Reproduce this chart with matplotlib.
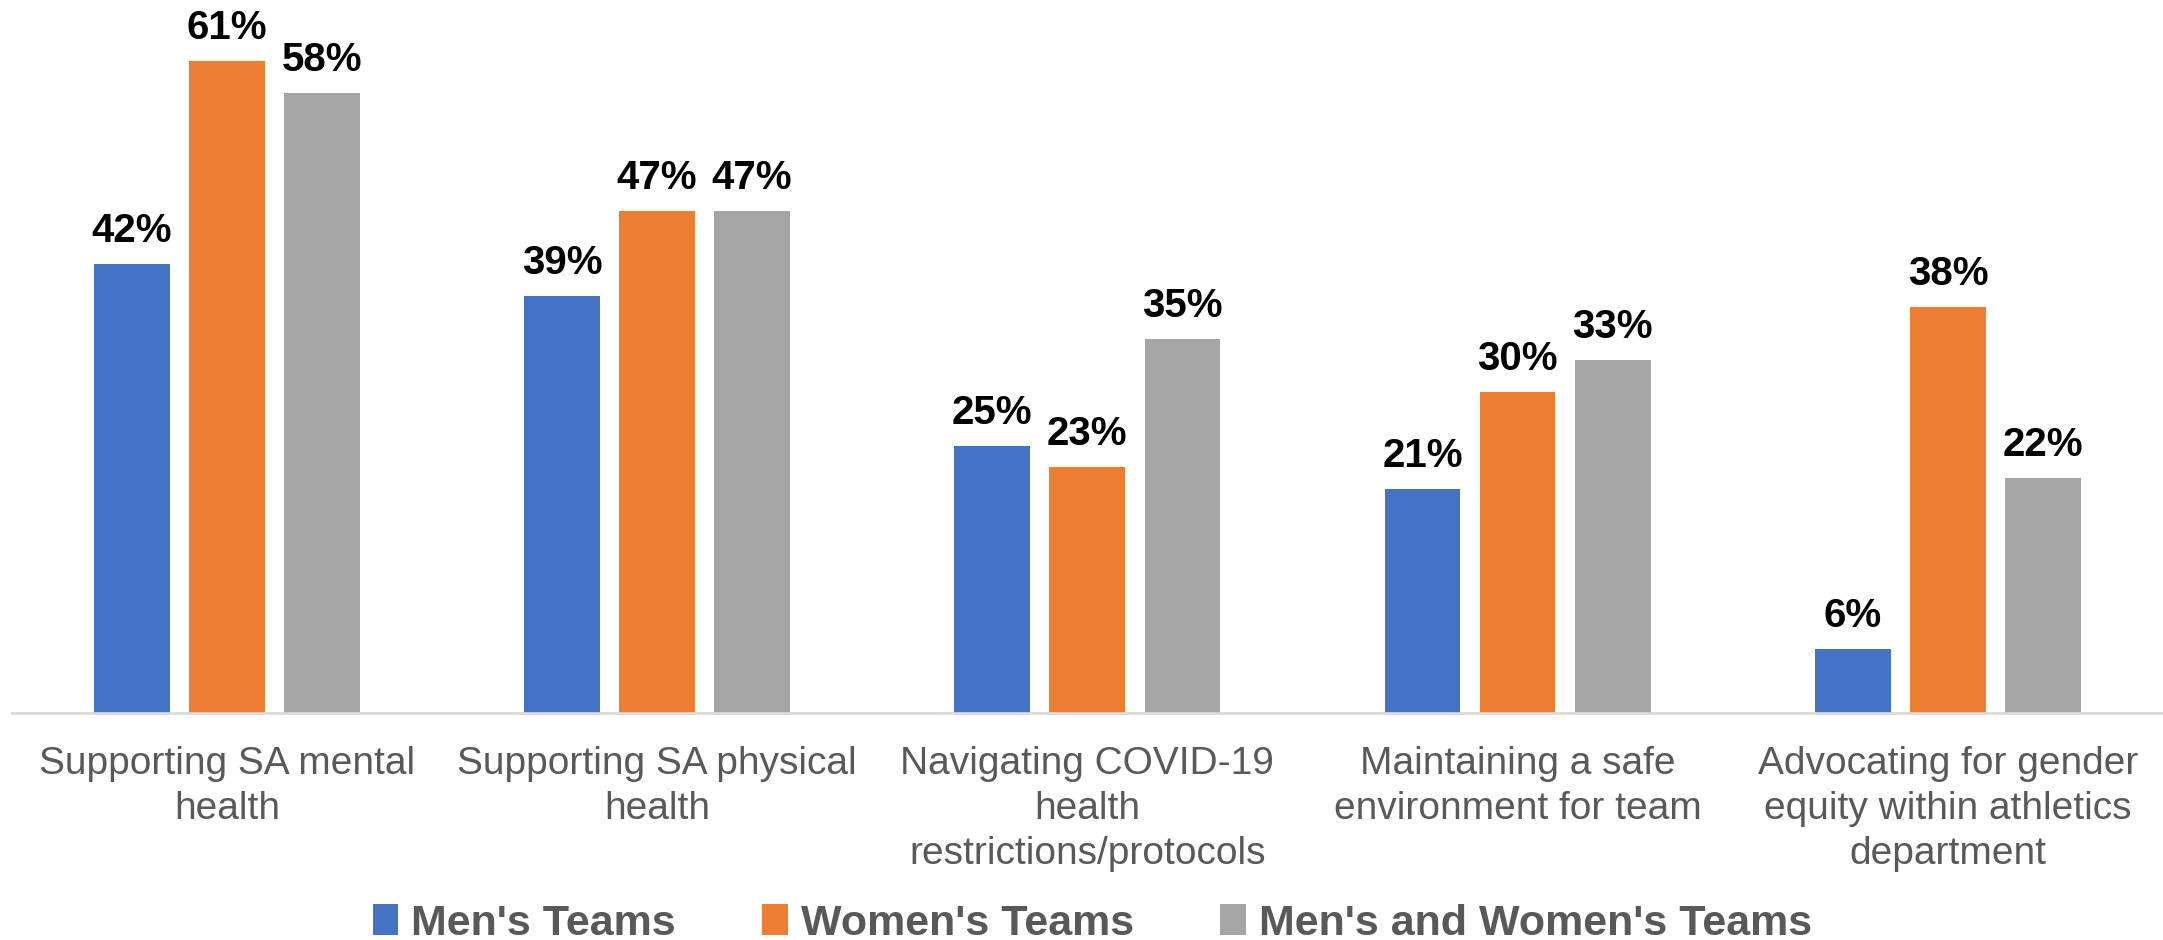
import matplotlib.pyplot as plt
import numpy as np

# categories and series values (percent)
categories = ["Supporting SA mental\nhealth",
              "Supporting SA physical\nhealth",
              "Navigating COVID-19\nhealth\nrestrictions/protocols",
              "Maintaining a safe\nenvironment for team",
              "Advocating for gender\nequity within athletics\ndepartment"]
mens = [42, 39, 25, 21, 6]
womens = [61, 47, 23, 30, 38]
both = [58, 47, 35, 33, 22]
series_names = ["Men's Teams", "Women's Teams", "Men's and Women's Teams"]
colors = ["#4472C4", "#ED7D31", "#A5A5A5"]

plt.rcParams['font.family'] = ['Liberation Sans', 'DejaVu Sans']

fig = plt.figure(figsize=(21.63, 9.4), dpi=100)
ax = fig.add_axes([11.7 / 2163, 227 / 940, 1 - 11.7 / 2163, 705.5 / 940])

x = np.arange(len(categories))
width = 0.176
pitch = 0.221
handles = []
for i, (vals, col) in enumerate(zip([mens, womens, both], colors)):
    bars = ax.bar(x + (i - 1) * pitch, vals, width, color=col, label=series_names[i])
    handles.append(bars)
    for b, v in zip(bars, vals):
        ax.annotate(f"{v}%", (b.get_x() + b.get_width() / 2, v),
                    xytext=(0, 10), textcoords='offset points',
                    ha='center', va='bottom', fontsize=29, fontweight='bold',
                    color='black')

ax.set_xlim(-0.5, len(categories) - 0.5)
ax.set_ylim(0, 66)
ax.set_yticks([])
for s in ['top', 'right', 'left']:
    ax.spines[s].set_visible(False)
ax.spines['bottom'].set_color('#D9D9D9')
ax.spines['bottom'].set_linewidth(2)
ax.set_xticks(x)
ax.set_xticklabels(categories, fontsize=28, color='#595959', linespacing=1.32)
ax.tick_params(axis='x', length=0, pad=24)

leg = fig.legend(handles=handles, loc='lower center', bbox_to_anchor=(0.505, -0.045),
                 ncol=3, frameon=False, handlelength=0.6,
                 handleheight=0.7, handletextpad=0.3, columnspacing=2.0,
                 prop={'weight': 'bold', 'size': 31})
for t in leg.get_texts():
    t.set_color('#595959')

fig.savefig("out.png", dpi=100)
